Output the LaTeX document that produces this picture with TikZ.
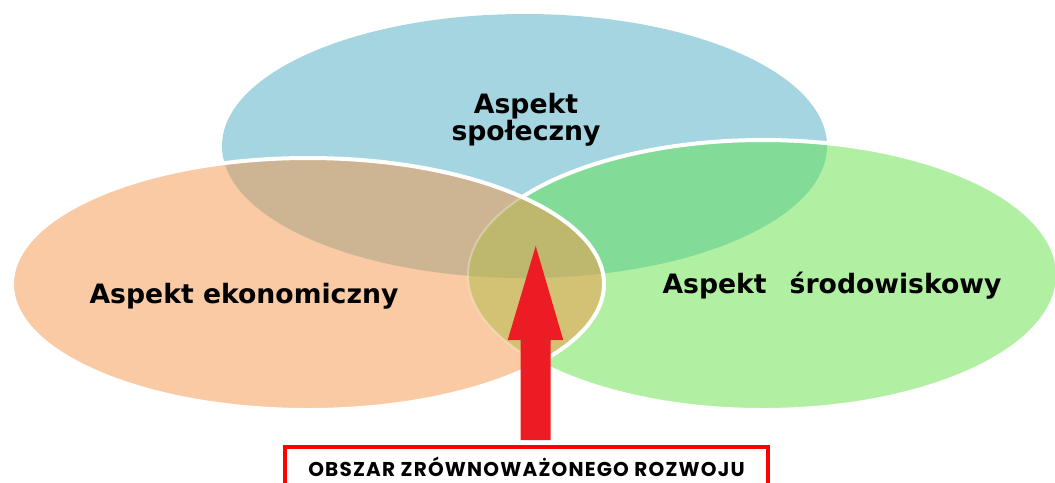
\documentclass[tikz,border=0pt]{standalone}
\usepackage{fontspec}
\setmainfont{DejaVu Sans}
\newfontfamily\boxfont{Poppins}[LetterSpace=6]
\usetikzlibrary{calc}
\definecolor{cBlue}{RGB}{166,213,226}
\definecolor{cOrange}{RGB}{249,202,163}
\definecolor{cGreen}{RGB}{177,240,163}
\definecolor{cBO}{RGB}{205,181,147}
\definecolor{cBG}{RGB}{130,219,150}
\definecolor{cLensTop}{RGB}{189,184,110}
\definecolor{cLensBot}{RGB}{212,194,116}
\definecolor{cArrow}{RGB}{237,28,36}
\definecolor{cBox}{RGB}{255,0,0}
\tikzset{
  outline/.style={white, line width=3pt},
  aspectlabel/.style={font=\bfseries\fontsize{20}{20}\selectfont, text=black, inner sep=0pt, anchor=base},
  areabox/.style={draw=cBox, line width=3pt, fill=white, minimum width=362.25pt, minimum height=30pt, inner sep=0pt, outer sep=0pt, font=\boxfont\bfseries\fontsize{15}{15}\selectfont},
  bigarrow/.style={fill=cArrow}
}
\begin{document}
\begin{tikzpicture}[x=0.75pt,y=-0.75pt]
\useasboundingbox (0,0) rectangle (1055,482);
\clip (0,0) rectangle (1055,482);
\def\blueE{(524.5,146) ellipse [x radius=302.5, y radius=132]}
\def\orangeE{(308,284) ellipse [x radius=296, y radius=126]}
\def\greenE{(763,275) ellipse [x radius=295, y radius=135]}
% social
\fill[cBlue] \blueE;
% environmental
\fill[cGreen] \greenE;
\begin{scope}
  \clip \greenE;
  \fill[cBG] \blueE;
\end{scope}
\draw[outline] \greenE;
% economic
\fill[cOrange] \orangeE;
\begin{scope}
  \clip \orangeE;
  \fill[cBO] \blueE;
  \clip \greenE;
  \fill[cLensBot] \greenE;
  \clip \blueE;
  \fill[cLensTop] \blueE;
\end{scope}
\begin{scope}
  \clip \orangeE;
  \draw[white, opacity=0.3, line width=1.5pt] \greenE;
\end{scope}
\draw[outline] \orangeE;
% labels
\node[aspectlabel] (spo) at (526,113) {Aspekt};
\node[aspectlabel] (spo2) at (526,140) {społeczny};
\node[aspectlabel] (eko) at (244,303) {Aspekt ekonomiczny};
\node[aspectlabel] (sro) at (832,293) {Aspekt\ \ \,środowiskowy};
% area box and arrow
\node[areabox] (box) at (526.5,467) {OBSZAR ZRÓWNOWAŻONEGO ROZWOJU};
\coordinate (tip) at (535.7,246);
\coordinate (foot) at ([yshift=5.25pt]box.north -| tip);
\path[bigarrow] ($(foot)+(-15,0)$) -- ($(tip)+(-15,94)$) -- ($(tip)+(-28,94)$)
  -- (tip) -- ($(tip)+(27.5,94)$) -- ($(tip)+(15,94)$) -- ($(foot)+(15,0)$) -- cycle;
\end{tikzpicture}
\end{document}
